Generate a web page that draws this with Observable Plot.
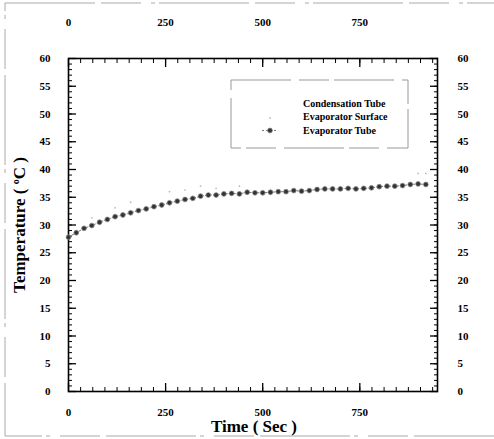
<!DOCTYPE html>
<html><head><meta charset="utf-8">
<script src="https://cdn.jsdelivr.net/npm/d3@7"></script>
<script src="https://cdn.jsdelivr.net/npm/@observablehq/plot@0.6"></script>
<style>body{margin:0;background:#fff}</style>
</head><body><div id="chart"></div><script>
// ---- data ----
const seriesNames = ["Condensation Tube", "Evaporator Surface", "Evaporator Tube"];
const time = [0,20,40,60,80,100,120,140,160,180,200,220,240,260,280,300,320,340,360,380,400,420,440,460,480,500,520,540,560,580,600,620,640,660,680,700,720,740,760,780,800,820,840,860,880,900,920];
const evaporatorTube = [27.8,28.6,29.4,29.9,30.5,31.0,31.5,31.8,32.2,32.6,32.9,33.3,33.6,34.0,34.3,34.6,34.8,35.2,35.4,35.4,35.6,35.7,35.6,35.9,35.8,35.8,35.9,36.0,36.0,36.2,36.1,36.2,36.4,36.5,36.5,36.5,36.6,36.5,36.6,36.7,36.9,37.0,37.0,37.1,37.3,37.4,37.3];
const surfaceTime = [60,120,160,260,300,340,380,440,900,920];
const evaporatorSurface = [31.3,33.1,34.1,36.0,36.3,37.0,36.6,37.0,39.3,39.3];
const xTicks = [0,250,500,750];
const yTicks = [0,5,10,15,20,25,30,35,40,45,50,55,60];
const xMinor = d3.range(0, 951, 31.25);
const yMinor = d3.range(0, 61, 1);

const tube = time.map((t, i) => ({t, v: evaporatorTube[i]}));
const surf = surfaceTime.map((t, i) => ({t, v: evaporatorSurface[i]}));
const font = "'Liberation Serif','Times New Roman',serif";
const blank = () => "";

const plot = Plot.plot({
  width: 494, height: 439,
  marginLeft: 68, marginRight: 57, marginTop: 58, marginBottom: 48,
  style: {fontFamily: font, fontWeight: "bold", fontSize: "11px", background: "white", color: "black"},
  x: {domain: [0, 950]},
  y: {domain: [0, 60]},
  marks: [
    Plot.axisX(xMinor, {anchor: "bottom", tickSize: -4, tickFormat: blank, label: null}),
    Plot.axisX(xMinor, {anchor: "top", tickSize: -4, tickFormat: blank, label: null}),
    Plot.axisX(xTicks, {anchor: "bottom", tickSize: -8, tickFormat: blank, label: null, strokeWidth: 1.3}),
    Plot.axisX(xTicks, {anchor: "top", tickSize: -8, tickFormat: blank, label: null, strokeWidth: 1.3}),
    Plot.axisX(xTicks, {anchor: "bottom", tickSize: 0, tickPadding: 17, label: null}),
    Plot.axisX(xTicks, {anchor: "top", tickSize: 0, tickPadding: 33, label: null}),
    Plot.axisY(yMinor, {anchor: "left", tickSize: -4, tickFormat: blank, label: null}),
    Plot.axisY(yMinor, {anchor: "right", tickSize: -4, tickFormat: blank, label: null}),
    Plot.axisY(yTicks, {anchor: "left", tickSize: -8, tickFormat: blank, label: null, strokeWidth: 1.3}),
    Plot.axisY(yTicks, {anchor: "right", tickSize: -8, tickFormat: blank, label: null, strokeWidth: 1.3}),
    Plot.axisY(yTicks, {anchor: "left", tickSize: 0, tickPadding: 18, label: null}),
    Plot.axisY(yTicks, {anchor: "right", tickSize: 0, tickPadding: 20, label: null}),
    Plot.frame({stroke: "black", strokeWidth: 1.6}),
    Plot.dot(surf, {x: "t", y: "v", r: 0.9, fill: "#bbb"}),
    Plot.line(tube, {x: "t", y: "v", stroke: "#777", strokeWidth: 1, strokeDasharray: "2,2"}),
    Plot.dot(tube, {x: "t", y: "v", r: 2.4, fill: "#333", stroke: "#888", strokeWidth: 0.8})
  ]
});
document.getElementById("chart").append(plot);

const svg = d3.select(plot);
// outer faint border
svg.insert("rect", ":first-child")
  .attr("x", 5).attr("y", 3).attr("width", 495).attr("height", 433)
  .attr("fill", "none").attr("stroke", "#aaa").attr("stroke-width", 1)
  .attr("stroke-dasharray", "90,6,40,10,4,4");

// axis titles
const yt = svg.append("text")
  .attr("transform", "translate(25,225) rotate(-90)")
  .attr("text-anchor", "middle")
  .style("font-family", font).style("font-weight", "bold").style("font-size", "17px");
yt.append("tspan").text("Temperature ( ");
yt.append("tspan").attr("dy", -6).style("font-size", "10px").text("o");
yt.append("tspan").attr("dy", 6).text("C )");

svg.append("text")
  .attr("x", 254).attr("y", 432)
  .attr("text-anchor", "middle")
  .style("font-family", font).style("font-weight", "bold").style("font-size", "17px")
  .text("Time ( Sec )");

// legend
const lg = svg.append("g");
lg.append("rect").attr("x", 231).attr("y", 80).attr("width", 177).attr("height", 68)
  .attr("fill", "none").attr("stroke", "#999").attr("stroke-width", 1)
  .attr("stroke-dasharray", "60,8,30,5");
seriesNames.forEach((name, i) => {
  const y = 107 + i * 13.3;
  lg.append("text").attr("x", 303).attr("y", y)
    .attr("text-anchor", "start")
    .style("font-family", font).style("font-weight", "bold").style("font-size", "10px")
    .text(name);
});
lg.append("circle").attr("cx", 270).attr("cy", 118).attr("r", 0.9).attr("fill", "#bbb");
lg.append("line").attr("x1", 262).attr("x2", 278).attr("y1", 130.5).attr("y2", 130.5)
  .attr("stroke", "#777").attr("stroke-dasharray", "2,2");
lg.append("circle").attr("cx", 270).attr("cy", 130.5).attr("r", 2.4).attr("fill", "#333")
  .attr("stroke", "#888").attr("stroke-width", 0.8);
</script></body></html>
